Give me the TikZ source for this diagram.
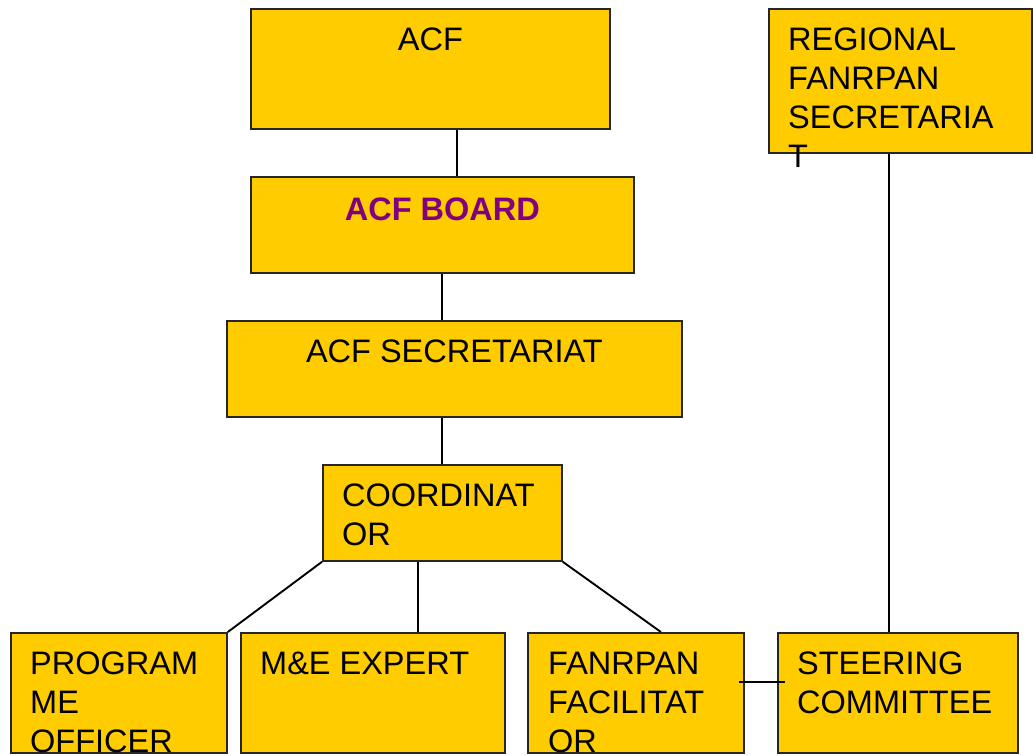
\documentclass[tikz,border=0pt]{standalone}
\usepackage{fontspec}
\setmainfont{Liberation Sans}
\definecolor{acfgold}{HTML}{FFCC00}
\definecolor{acfpurple}{HTML}{800080}
\begin{document}
\begin{tikzpicture}[x=1pt,y=-1pt,
  orgbox/.style={draw=black!85,fill=acfgold,line width=1.8pt,inner sep=0pt,anchor=north west},
  orgtext/.style={inner sep=0pt,align=left,font=\fontsize{32.5}{39}\selectfont},
  orgline/.style={draw=black,line width=1.9pt}]
\useasboundingbox (0,0) rectangle (1033,755);
% boxes
\node[orgbox,minimum width=359,minimum height=120] (acf) at (250,8) {};
\node[orgbox,minimum width=383,minimum height=96] (board) at (250,176) {};
\node[orgbox,minimum width=455,minimum height=96] (secr) at (226,320) {};
\node[orgbox,minimum width=239,minimum height=96] (coord) at (322,464) {};
\node[orgbox,minimum width=216,minimum height=120] (progoff) at (10,632) {};
\node[orgbox,minimum width=264,minimum height=120] (meexp) at (240,632) {};
\node[orgbox,minimum width=216,minimum height=120] (facil) at (527,632) {};
\node[orgbox,minimum width=240,minimum height=120] (steer) at (777,632) {};
\node[orgbox,minimum width=263,minimum height=144] (regsec) at (768,8) {};
% texts
\node[orgtext,anchor=north] (acf-t) at ([yshift=-20pt]acf.north) {ACF};
\node[orgtext,anchor=north,font=\fontsize{32.5}{39}\selectfont\bfseries,text=acfpurple] (board-t) at ([yshift=-22pt]board.north) {ACF BOARD};
\node[orgtext,anchor=north] (secr-t) at ([yshift=-20pt]secr.north) {ACF SECRETARIAT};
\node[orgtext,anchor=north west] (coord-t) at ([xshift=20pt,yshift=-20pt]coord.north west) {COORDINAT\\OR};
\node[orgtext,anchor=north west] (progoff-t) at ([xshift=20pt,yshift=-20pt]progoff.north west) {PROGRAM\\ME\\OFFICER};
\node[orgtext,anchor=north west] (meexp-t) at ([xshift=20pt,yshift=-20pt]meexp.north west) {M\&E EXPERT};
\node[orgtext,anchor=north west] (facil-t) at ([xshift=21pt,yshift=-20pt]facil.north west) {FANRPAN\\FACILITAT\\OR};
\node[orgtext,anchor=north west] (steer-t) at ([xshift=20pt,yshift=-20pt]steer.north west) {STEERING\\COMMITTEE};
\node[orgtext,anchor=north west] (regsec-t) at ([xshift=20pt,yshift=-20pt]regsec.north west) {REGIONAL\\FANRPAN\\SECRETARIA\\T};
% connectors
\draw[orgline] ([xshift=27pt]acf.south) -- ([xshift=27pt]acf.south |- board.north);
\draw[orgline] (board.south) -- (board.south |- secr.north);
\draw[orgline] (coord.north |- secr.south) -- (coord.north);
\draw[orgline] (coord.south west) -- (progoff.north east);
\draw[orgline] ([xshift=-24pt]coord.south) -- ([xshift=-24pt]coord.south |- meexp.north);
\draw[orgline] (coord.south east) -- ([xshift=25pt]facil.north);
\draw[orgline] ([xshift=-11pt]regsec.south) -- ([xshift=-11pt]regsec.south |- steer.north);
\draw[orgline] ([xshift=-6pt,yshift=11pt]facil.east) -- ([xshift=8pt,yshift=11pt]steer.west);
\end{tikzpicture}
\end{document}
